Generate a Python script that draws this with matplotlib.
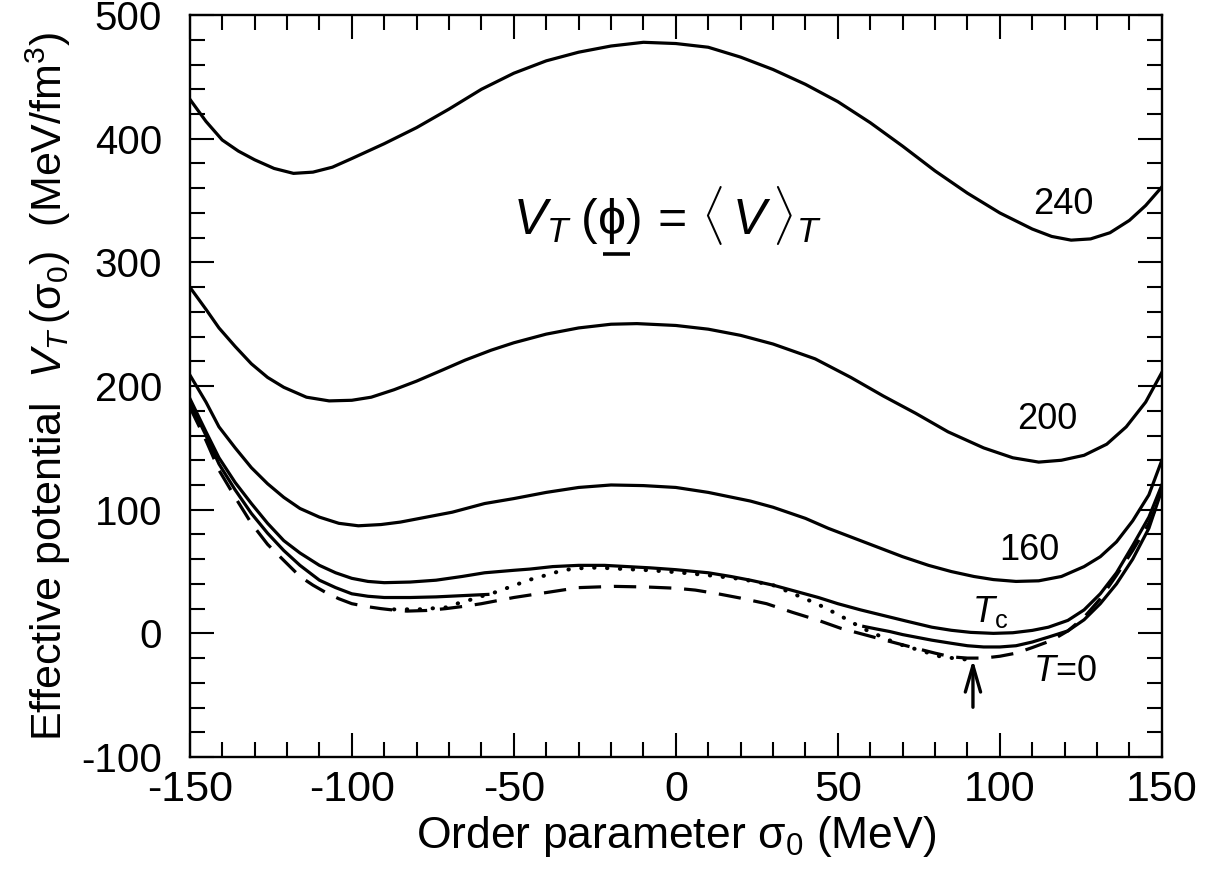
import numpy as np
import matplotlib
matplotlib.use("Agg")
import matplotlib.pyplot as plt
from matplotlib.ticker import MultipleLocator

plt.rcParams['font.family'] = ['Liberation Sans', 'DejaVu Sans']
plt.rcParams['mathtext.fontset'] = 'custom'
plt.rcParams['mathtext.rm'] = 'Liberation Sans'
plt.rcParams['mathtext.it'] = 'Liberation Sans:italic'
plt.rcParams['mathtext.sf'] = 'Liberation Sans'
plt.rcParams['axes.unicode_minus'] = False

# --- data (sigma_0 in MeV, V in MeV/fm^3) ---
x_240 = [-150, -145, -140, -135, -130, -124, -118, -112, -106, -100, -90, -80, -70, -60, -50, -40, -30, -20, -10, 0, 10, 20, 30, 40, 50, 60, 70, 80, 90, 100, 110, 116, 122, 128, 134, 140, 145, 150]
v_240 = [432, 414, 399, 390, 383, 376, 372, 373, 377, 384, 396, 409, 424, 440, 453, 463, 470, 475, 478, 477, 474, 466, 456, 444, 430, 413, 394, 374, 356, 340, 327, 321, 318, 319, 324, 334, 346, 361]

x_200 = [-150, -145, -141, -136, -131, -126, -121, -114, -107, -100, -94, -87, -80, -72, -65, -57, -50, -40, -30, -20, -12, 0, 10, 20, 30, 43, 54, 64, 74, 84, 95, 104, 112, 119, 126, 133, 139, 145, 150]
v_200 = [280, 262, 247, 232, 218, 207, 199, 191, 188, 188.5, 191, 197, 204, 213, 221, 229, 235, 242, 247, 250, 250.5, 249, 246, 241, 234, 222, 207, 192, 178, 163, 150, 142, 138.5, 140, 144, 153, 167, 187, 211]

x_160 = [-150, -145, -141, -136, -131, -126, -121, -116, -110, -104, -98, -91, -85, -77, -69, -59, -50, -40, -30, -20, -10, 0, 10, 23, 30, 40, 47, 54, 62, 70, 78, 85, 92, 98, 105, 112, 119, 126, 131, 136, 141, 146, 150]
v_160 = [209, 187, 167, 150, 134, 121, 110, 101, 94, 89, 87, 88, 90, 94, 98, 105, 109, 114, 118, 120, 119.5, 118, 114, 107, 102, 93, 85, 78, 70, 62, 55, 50, 46, 43.5, 42, 42.5, 46, 54, 62, 74, 91, 112, 140]

x_tc = [-150, -145, -141, -136, -131, -126, -121, -116, -110, -105, -100, -95, -90, -82, -74, -66, -59, -50, -45, -38, -30, -22, -15, -8, 0, 10, 17, 23, 30, 37, 44, 50, 57, 64, 71, 79, 85, 91, 98, 104, 110, 115, 121, 126, 131, 136, 141, 146, 150]
v_tc = [190, 163, 142, 122, 105, 89, 75, 65, 55, 49, 44.5, 42, 41, 41.5, 43, 46, 49, 51, 52, 54, 55, 55, 54, 53, 51.5, 49, 46, 43, 39, 34, 29, 24, 19, 14.5, 10, 5, 2.5, 0.8, 0, 0.5, 2.4, 5, 10.5, 19, 32, 49, 71, 94, 120]

# lower solid curve, drawn only outside the dotted (metastable) region
x_low_l = [-150, -145, -141, -136, -131, -126, -121, -116, -110, -105, -100, -95, -90, -82, -74, -66, -58]
v_low_l = [187, 160, 137, 116, 97, 81, 67, 55, 43, 37, 32, 30, 29, 29, 29.5, 30.5, 31.5]
x_low_r = [58, 62, 66, 70, 74, 79, 85, 90, 95, 100, 105, 110, 115, 121, 126, 131, 136, 141, 146, 150]
v_low_r = [5.6, 3.5, 1.5, -1, -3, -5.5, -8, -10, -11, -11, -10, -7, -3, 2, 11, 24, 40, 60, 85, 116]

x_t0 = [-150, -145, -141, -136, -131, -126, -121, -116, -112, -108, -104, -100, -95, -91, -87, -83, -77, -71, -65, -60, -50, -40, -30, -19, -9, 0, 6, 13, 20, 28, 36, 44, 51, 59, 66, 74, 80, 85, 90, 95, 100, 105, 110, 116, 121, 126, 131, 136, 141, 146, 150]
v_t0 = [183, 156, 132, 110, 89, 72, 59, 46, 39, 33, 28, 24, 21.5, 20, 18.8, 18, 18.5, 20, 22, 24, 29, 33, 37, 38, 37.5, 36.5, 35, 32, 28.5, 24, 17, 10.5, 4, -1.6, -6.5, -12, -16, -19, -20, -20, -18.5, -16, -11.5, -5.7, 2, 13, 28, 47, 67, 89, 112]

x_dot = [-87, -79, -71, -67.6, -63.6, -60, -56.5, -52.8, -49, -45.6, -42, -38, -35, -30.6, -27, -23.6, -19.6, -15.6, -8, 0, 10, 20, 30, 43.5, 50.6, 57.7, 68, 82, 89, 92]
v_dot = [19.4, 19.5, 21, 24, 27, 30, 32.5, 36, 39.6, 43, 45.6, 48.6, 51, 52.5, 53, 53.2, 52.5, 52, 51, 49.5, 47, 44, 39, 24, 14.5, 4, -8, -19, -21, -21]

curve_labels = ['240', '200', '160']
label_x = [119.5, 114.5, 109]
label_y = [347, 173, 67]

fig = plt.figure(figsize=(12.09, 8.88), dpi=100)
ax = fig.add_axes([0.157, 0.1475, 0.804, 0.8355])

lw = 2.3
for xs, vs in [(x_240, v_240), (x_200, v_200), (x_160, v_160), (x_tc, v_tc),
               (x_low_l, v_low_l), (x_low_r, v_low_r)]:
    ax.plot(xs, vs, color='black', lw=lw, solid_joinstyle='round')
ax.plot(x_t0, v_t0, color='black', lw=lw, linestyle=(0, (7, 4)))
ax.plot(x_dot, v_dot, color='black', lw=2.9, linestyle=(0, (0.1, 3.1)),
        dash_capstyle='round')

for lab, lx, ly in zip(curve_labels, label_x, label_y):
    ax.text(lx, ly, lab, fontsize=26, ha='center', va='center')
ax.text(97, 17, r'$T_{\mathrm{c}}$', fontsize=26, ha='center', va='center')
ax.text(120, -31, r'$T$=0', fontsize=26, ha='center', va='center')

# arrow marking the vacuum value
ax.annotate('', xy=(91.7, -19), xytext=(91.7, -62),
            arrowprops=dict(arrowstyle='->,head_length=1.9,head_width=0.55',
                            lw=2.4, color='black'))

# formula
ax.text(-2.5, 323, r'$V_T\;(\mathrm{\phi})\,=\,\langle\, V\,\rangle_T$', fontsize=36,
        ha='center', va='baseline')
ax.plot([-22.5, -14.2], [307, 307], color='black', lw=2.6, solid_capstyle='butt')

ax.set_xlim(-150, 150)
ax.set_ylim(-100, 500)
ax.xaxis.set_major_locator(MultipleLocator(50))
ax.xaxis.set_minor_locator(MultipleLocator(10))
ax.yaxis.set_major_locator(MultipleLocator(100))
ax.yaxis.set_minor_locator(MultipleLocator(20))
ax.tick_params(which='both', direction='in', top=True, right=True, width=1.5)
ax.tick_params(which='major', length=17)
ax.tick_params(which='minor', length=11)
ax.tick_params(axis='x', labelsize=31, pad=9)
ax.tick_params(axis='y', labelsize=29, pad=20)
for s in ax.spines.values():
    s.set_linewidth(1.7)

ax.set_xlabel(r'Order parameter $\mathrm{\sigma}_0$ (MeV)', fontsize=32, labelpad=3)
ax.set_ylabel(r'Effective potential  $V_T\,(\mathrm{\sigma}_0)$  (MeV/fm$^3$)', fontsize=31, labelpad=6)

fig.savefig('out.png', dpi=100)
